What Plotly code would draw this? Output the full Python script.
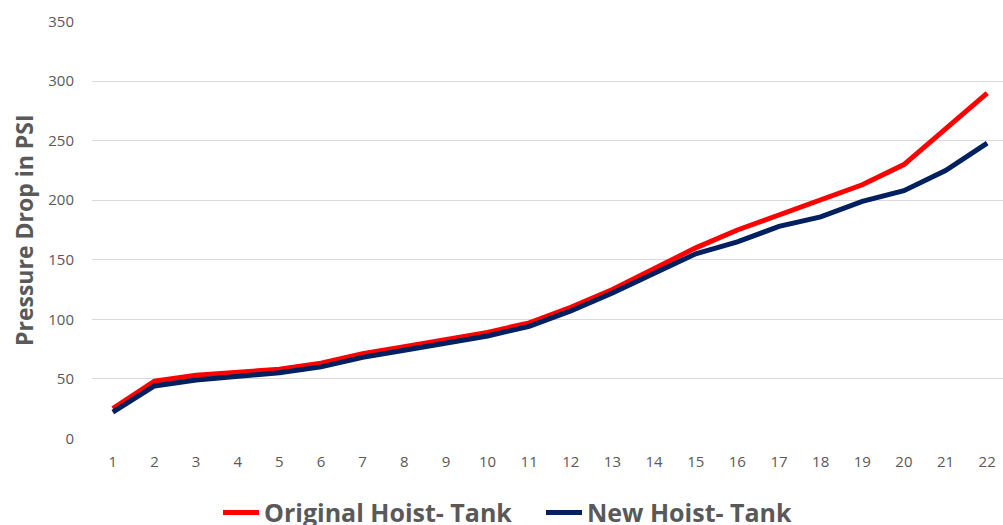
import plotly.graph_objects as go

x_labels = [str(i) for i in range(1, 23)]
original = [25, 48, 53, 56, 58, 63, 71, 77, 83, 89, 97, 110, 125, 142, 160, 175, 188, 201, 213, 230, 260, 290]
new = [22, 44, 49, 52, 55, 60, 68, 74, 80, 86, 94, 107, 122, 139, 155, 165, 178, 186, 199, 208, 225, 248]
y_ticks = [0, 50, 100, 150, 200, 250, 300, 350]
y_title = "Pressure Drop in PSI"

fig = go.Figure()
fig.add_trace(go.Scatter(x=list(range(1, 23)), y=original, mode="lines", name="Original Hoist- Tank",
                         line=dict(color="#FF0000", width=5)))
fig.add_trace(go.Scatter(x=list(range(1, 23)), y=new, mode="lines", name="New Hoist- Tank",
                         line=dict(color="#002060", width=5)))

fig.add_annotation(text=y_title, textangle=-90, xref="paper", yref="paper",
                   x=(24 - 92) / 911, y=0.5, xanchor="center", yanchor="middle", showarrow=False,
                   font=dict(size=23, color="#595959", weight="bold", family="Open Sans, sans-serif"))

fig.update_layout(
    width=1003, height=525,
    margin=dict(l=92, r=0, t=21, b=86, autoexpand=False),
    plot_bgcolor="white", paper_bgcolor="white",
    font=dict(family="Open Sans, sans-serif", color="#595959"),
    showlegend=True,
    legend=dict(orientation="h", xref="container", x=(226 - 8) / 1003, xanchor="left",
                y=-0.1765, yanchor="middle",
                font=dict(size=25, color="#595959", weight="bold"),
                itemwidth=36, tracegroupgap=0, entrywidth=272, entrywidthmode="pixels"),
    xaxis=dict(range=[0.5, 22.38], tickmode="array", tickvals=list(range(1, 23)), ticktext=x_labels,
               showgrid=False, zeroline=False, showline=False, ticks="", automargin=False,
               tickfont=dict(size=15, color="#595959"), ticklabelstandoff=12, fixedrange=True),
    yaxis=dict(range=[-0.6, 350.6], tickmode="array", tickvals=y_ticks, automargin=False,
               showgrid=True, gridcolor="#D9D9D9", gridwidth=1, zeroline=False, showline=False,
               tickfont=dict(size=15, color="#595959"), ticklabelstandoff=17),
)

fig.write_html("out.html", config={"displayModeBar": False},
               post_script="document.body.style.margin='0';document.body.style.overflow='hidden';")
